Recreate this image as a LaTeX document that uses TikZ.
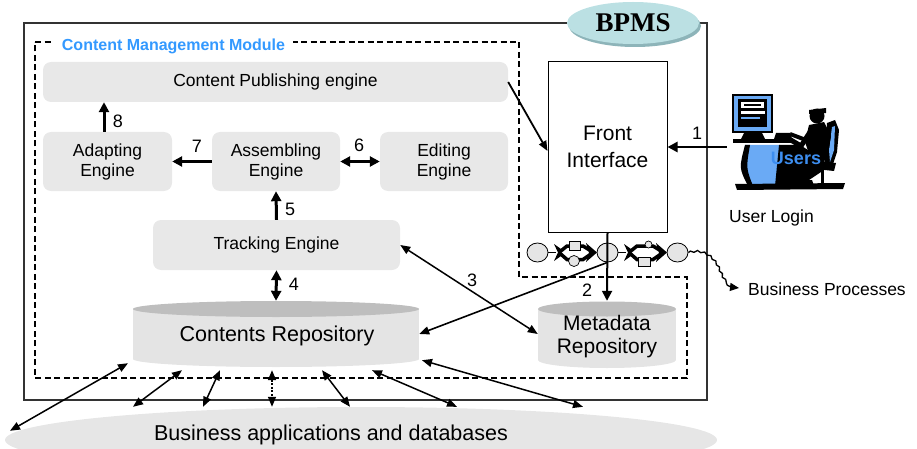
\documentclass[tikz,border=0pt]{standalone}
\usepackage{fontspec}
\setmainfont{Liberation Sans}
\newfontfamily\bpmsfont{Liberation Serif}
\usetikzlibrary{arrows.meta,shapes.geometric,calc,shadows,decorations.pathmorphing}

\definecolor{boxgray}{HTML}{E8E8E8}
\definecolor{cyltop}{HTML}{BEBEBE}
\definecolor{cylbody}{HTML}{E4E4E4}
\definecolor{blobgray}{HTML}{E6E6E6}
\definecolor{cmmblue}{HTML}{3399FF}
\definecolor{bpmsfill}{HTML}{BBE0E3}
\definecolor{bpmsshade}{HTML}{8DB4B9}
\definecolor{iconblue}{HTML}{6AAAF5}
\definecolor{usersblue}{HTML}{3D8EF0}

\tikzset{
  engine/.style={fill=boxgray, rounded corners=8pt, inner sep=0pt, align=center,
                 font=\fontsize{17.5}{20}\selectfont},
  fatarrow/.style={line width=3pt, -{Triangle[length=10pt,width=10pt]}},
  fatboth/.style={line width=3pt, {Triangle[length=10pt,width=10pt]}-{Triangle[length=10pt,width=10pt]}},
  thinboth/.style={line width=1.5pt, {Triangle[length=10pt,width=8pt]}-{Triangle[length=10pt,width=8pt]}},
  numlabel/.style={font=\fontsize{18}{20}\selectfont, inner sep=0pt},
  state/.style={ellipse, draw=black, line width=0.8pt, fill=gray!20, minimum width=21pt,
                minimum height=19pt, inner sep=0pt},
  task/.style={rectangle, draw=black, line width=0.7pt, fill=gray!20, inner sep=0pt},
  event/.style={circle, draw=black, line width=0.7pt, fill=gray!20, inner sep=0pt},
  modframe/.style={line width=2pt, dash pattern=on 6pt off 3.5pt},
  userstext/.style={inner sep=0pt, font=\bfseries\fontsize{18}{20}\selectfont},
}

\begin{document}
\begin{tikzpicture}[x=1pt, y=-1pt]
\useasboundingbox (0,0) rectangle (917,449);

% Business applications and databases
\node[ellipse, fill=blobgray, minimum width=712pt, minimum height=66pt, inner sep=0pt] (biz) at (361,440) {};
\node[font=\fontsize{21.5}{24}\selectfont, inner sep=0pt] (biztext) at (331,435) {Business applications and databases};

% BPMS outer frame
\draw[line width=1.1pt, black!80] (24,23) rectangle (707,400);
\node[ellipse, fill=bpmsfill, minimum width=132pt, minimum height=42pt, inner sep=0pt,
      drop shadow={shadow xshift=2pt, shadow yshift=-3pt, fill=bpmsshade, opacity=1},
      font=\bpmsfont\bfseries\fontsize{27}{30}\selectfont] (bpms) at (633,23) {BPMS};

% Content Management Module frame
\draw[modframe] (35,42) -- (519,42) -- (519,277) -- (687,277) -- (687,378) -- (35,378) -- cycle;
\node[fill=white, inner xsep=8pt, inner ysep=2pt, text=cmmblue,
      font=\bfseries\fontsize{16}{18}\selectfont] (cmm) at (173.5,46) {Content Management Module};

% Engines
\node[engine, minimum width=465pt, minimum height=40pt] (pub) at (275.5,82) {Content Publishing engine};
\node[engine, minimum width=129pt, minimum height=59pt] (adapt) at (107.5,161.5) {Adapting\\Engine};
\node[engine, minimum width=128pt, minimum height=59pt] (assem) at (276,161.5) {Assembling\\Engine};
\node[engine, minimum width=128pt, minimum height=59pt] (edit) at (444,161.5) {Editing\\Engine};
\node[engine, minimum width=247pt, minimum height=50pt] (track) at (276.5,245) {Tracking Engine};

% Front interface
\node[draw=black, line width=1pt, fill=white, minimum width=119pt, minimum height=170pt,
      align=center, font=\fontsize{21}{27}\selectfont] (front) at (607.5,147) {Front\\Interface};

% Contents repository (cylinder)
\fill[cylbody] (133,309) rectangle (419,359);
\fill[cylbody] (276,359) ellipse [x radius=143, y radius=8];
\fill[cyltop] (276,309) ellipse [x radius=143, y radius=8];
\node[minimum width=286pt, minimum height=66pt, inner sep=0pt] (crep) at (276,334) {};
\node[font=\fontsize{21.5}{24}\selectfont, inner sep=0pt] (creptext) at (277,336) {Contents Repository};

% Metadata repository (cylinder)
\fill[cylbody] (538,309) rectangle (676,360);
\fill[cylbody] (607,360) ellipse [x radius=69, y radius=8];
\fill[cyltop] (607,309) ellipse [x radius=69, y radius=7.5];
\node[minimum width=138pt, minimum height=66pt, inner sep=0pt] (meta) at (607,334) {};
\node[align=center, inner sep=0pt, font=\fontsize{21}{23}\selectfont] (metatext) at (607,337) {Metadata\\Repository};

% Process chain
\node[state] (c1) at (537.5,252.5) {};
\node[state] (c2) at (607.5,252.5) {};
\node[state] (c3) at (677.5,252.5) {};
% first fork / join
\draw[line width=1pt] (c1.east) -- (556,252.5);
\fill[black] (554,244) -- (561,249) -- (561,256) -- (554,261) -- (558,252.5) -- cycle;
\draw[line width=3.5pt] (559,252.5) -- (567,246) -- (583,246) -- (591,251);
\draw[line width=3.5pt] (559,252.5) -- (567,259.5) -- (583,259.5) -- (591,254);
\fill[black] (586,243) -- (597,252.5) -- (586,262) -- (589,252.5) -- cycle;
\node[task, minimum width=11pt, minimum height=9pt] (sq1) at (574.5,245.5) {};
\node[event, minimum size=11pt] (cc1) at (574,261) {};
% second fork / join
\draw[line width=1pt] (c2.east) -- (626,252.5);
\fill[black] (624,244) -- (631,249) -- (631,256) -- (624,261) -- (628,252.5) -- cycle;
\draw[line width=3.5pt] (629,252.5) -- (637,246) -- (653,246) -- (661,251);
\draw[line width=3.5pt] (629,252.5) -- (637,259.5) -- (653,259.5) -- (661,254);
\fill[black] (656,243) -- (667,252.5) -- (656,262) -- (659,252.5) -- cycle;
\node[event, minimum size=7pt] (cc2) at (648.5,244.5) {};
\node[task, minimum width=12pt, minimum height=9pt] (sq2) at (644,261.5) {};

% Business processes
\node[anchor=west, inner sep=0pt, font=\fontsize{17.5}{20}\selectfont] (bp) at (748,289) {Business Processes};
\coordinate (bpin) at (739,288);
\draw[line width=1.3pt, -{Triangle[length=9pt,width=8pt]},
      decoration={snake, amplitude=0.9pt, segment length=7pt, post length=8pt}, decorate]
  (c3.east) .. controls (703,249) and (713,258) .. (718,270)
            .. controls (723,282) and (728,289) .. (bpin);

% User at workstation
\node[minimum width=107pt, minimum height=100pt, inner sep=0pt] (user) at (783.5,147) {};
\begin{scope}
  % monitor
  \fill[black] (732,94) rectangle (773,133);
  \fill[iconblue] (734,96) rectangle (771,131);
  \fill[black] (738,99) rectangle (767,127);
  \fill[white] (741,102) rectangle (764,108);
  \fill[black] (744,104) rectangle (761,106);
  \fill[white] (741,111) rectangle (765,114);
  \fill[iconblue] (741,117) rectangle (760,119);
  \fill[black] (744,133) -- (762,133) -- (765,139) -- (741,139) -- cycle;
  % desk
  \fill[black] (733,139) rectangle (792,143);
  \fill[black] (776,133) -- (790,133) -- (792,139) -- (774,139) -- cycle;
  \fill[iconblue] (745,145) -- (780,145) -- (776,186) -- (749,186) .. controls (741,170) .. (745,145) -- cycle;
  \fill[black] (745,145) .. controls (739,168) .. (748,186) -- (753,186) .. controls (746,168) .. (750,145) -- cycle;
  % shadow under the desk, behind the legs
  \fill[black] (779,145) -- (800,145) -- (824,160) -- (824,170) -- (800,186) -- (775,186) -- cycle;
  % chair
  \fill[black] (827,123) -- (835,120) -- (839,130) -- (837,152) -- (831,170) -- (824,168) -- cycle;
  \fill[iconblue] (832,127) -- (835,126) -- (834,150) -- (830,162) -- (829,150) -- cycle;
  \fill[black] (806,160) -- (836,163) -- (834,171) -- (806,168) -- cycle;
  \draw[line width=3pt] (822,170) -- (822,184);
  % person
  \fill[black] (817,116) circle [radius=7.5];
  \fill[black] (809,110) -- (826,108) -- (826,113) -- (809,114) -- cycle;
  \fill[black] (809,125) -- (824,122) -- (831,136) -- (827,160) -- (812,163) -- (805,142) -- cycle;
  \draw[line width=5pt, line cap=round, line join=round] (812,129) -- (801,146) -- (784,136);
  \draw[line width=4pt, line join=round] (811,131) -- (806,140) -- (790,134);
  \fill[black] (786,180) -- (812,180) -- (814,186) -- (784,186) -- cycle;
  % base
  \fill[black] (735,184) -- (845,183) -- (843,189) -- (737,190) -- cycle;
  % caption on the desk
  \node[userstext, text=usersblue] (users) at (796,158) {Users};
\end{scope}
\node[inner sep=0pt, font=\fontsize{17.5}{20}\selectfont] (login) at (771.5,218) {User Login};

% Numbered flows
\draw[fatarrow] ([xshift=-3.5pt]adapt.north) -- ([xshift=-3.5pt]adapt.north |- pub.south);
\node[numlabel] (n8) at (118,121) {8};
\draw[fatarrow] (assem.west) -- (adapt.east);
\node[numlabel] (n7) at (197,146) {7};
\draw[fatboth] (assem.east) -- (edit.west);
\node[numlabel] (n6) at (359,145) {6};
\draw[fatarrow] (track.north) -- (assem.south);
\node[numlabel] (n5) at (290,209) {5};
\draw[fatboth] (track.south) -- (crep.north);
\node[numlabel] (n4) at (294,284) {4};
\draw[thinboth] (track.east) -- (meta.west);
\node[numlabel] (n3) at (472,280) {3};
\draw[line width=2pt, -{Triangle[length=10pt,width=10pt]}] (front.south) -- (meta.north);
\node[numlabel] (n2) at (587,290) {2};
\draw[line width=2.5pt, -{Triangle[length=10pt,width=10pt]}] ([xshift=-3pt]user.west) -- (front.east);
\node[numlabel] (n1) at (697,133) {1};
\draw[line width=1.8pt, -{Triangle[length=10pt,width=8pt]}] (pub.east) -- ([yshift=-4pt]front.west);
\draw[line width=1.6pt, -{Triangle[length=10pt,width=8pt]}] (c2.south) -- (crep.east);

% Exchanges with business applications
\draw[thinboth] ($(crep.south)+(-148,-4)$) -- ($(biz.north)+(-351,24)$);
\draw[thinboth] ($(crep.south)+(-94,3)$) -- ($(biz.north)+(-228,0)$);
\draw[thinboth] ($(crep.south)+(-56,3)$) -- ($(biz.north)+(-158,0)$);
\draw[thinboth, dash pattern=on 2pt off 1.5pt] ($(crep.south)+(-4,3)$) -- ($(biz.north)+(-89,0)$);
\draw[thinboth] ($(crep.south)+(46,3)$) -- ($(biz.north)+(-11,0)$);
\draw[thinboth] ($(crep.south)+(96,3)$) -- ($(biz.north)+(96,0)$);
\draw[thinboth] ($(crep.south)+(146,-7)$) -- ($(biz.north)+(222,0)$);
\end{tikzpicture}
\end{document}
